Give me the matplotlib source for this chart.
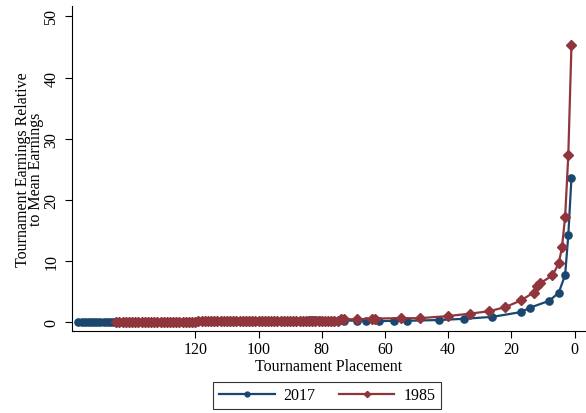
import matplotlib.pyplot as plt
import numpy as np

plt.rcParams['font.family'] = ['Liberation Serif', 'DejaVu Serif']

# placements and earnings relative to mean
place_2017 = [1, 2, 3, 5, 8, 14, 17, 26, 35, 43, 53, 57, 62, 66, 69, 73, 75,
              81, 82, 83, 84] + list(range(85, 158))
earn_2017 = [23.6, 14.2, 7.7, 4.8, 3.45, 2.35, 1.6, 0.82, 0.5, 0.3, 0.18, 0.17,
             0.12, 0.15, 0.2, 0.2, 0.18, 0.3, 0.3, 0.28, 0.25,
             0.2, 0.18, 0.17, 0.16, 0.15, 0.15, 0.14, 0.14, 0.13, 0.13,
             0.12, 0.12, 0.11, 0.11, 0.1, 0.1, 0.1, 0.09, 0.09, 0.09,
             0.08, 0.08, 0.08, 0.08, 0.07, 0.07, 0.07, 0.07, 0.07, 0.06,
             0.06, 0.06, 0.06, 0.06, 0.06, 0.05, 0.05, 0.05, 0.05, 0.05,
             0.05, 0.05, 0.04, 0.04, 0.04, 0.04, 0.04, 0.04, 0.04, 0.04,
             0.04, 0.03, 0.03, 0.03, 0.03, 0.03, 0.03, 0.03, 0.03, 0.03,
             0.03, 0.03, 0.02, 0.02, 0.02, 0.02, 0.02, 0.02, 0.02, 0.02,
             0.02, 0.02, 0.02]

place_1985 = [1, 2, 3, 4, 5, 7, 11, 12, 13, 17, 22, 27, 33, 40, 49, 55, 63, 64,
              69, 73, 74] + list(range(75, 146))
earn_1985 = [45.3, 27.3, 17.2, 12.2, 9.6, 7.6, 6.3, 5.9, 4.8, 3.5, 2.4, 1.75,
             1.35, 0.95, 0.6, 0.6, 0.55, 0.55, 0.4, 0.45, 0.4,
             0.2, 0.19, 0.18, 0.17, 0.17, 0.16, 0.16, 0.15, 0.15, 0.14,
             0.14, 0.13, 0.13, 0.12, 0.12, 0.12, 0.11, 0.11, 0.11, 0.1,
             0.1, 0.1, 0.1, 0.09, 0.09, 0.09, 0.09, 0.08, 0.08, 0.08,
             0.08, 0.08, 0.07, 0.07, 0.07, 0.07, 0.07, 0.07, 0.06, 0.06,
             0.06, 0.06, 0.06, 0.06, 0.06, 0.05, 0.05, 0.05, 0.05, 0.05,
             0.05, 0.05, 0.05, 0.05, 0.04, 0.04, 0.04, 0.04, 0.04, 0.04,
             0.04, 0.04, 0.04, 0.04, 0.04, 0.03, 0.03, 0.03, 0.03, 0.03,
             0.03]

blue = '#1a476f'
red = '#90353b'

fig = plt.figure(figsize=(5.86, 4.14), dpi=100)
ax = fig.add_axes([0.1229, 0.198, 0.8771, 0.785])

ax.plot(place_2017, earn_2017, color=blue, lw=1.6, marker='o', ms=5.2,
        label='2017')
ax.plot(place_1985, earn_1985, color=red, lw=1.6, marker='D', ms=4.8,
        label='1985')

ax.set_xlim(159, -3.6)
ax.set_ylim(-1.5, 51.7)
ax.set_xticks([120, 100, 80, 60, 40, 20, 0])
ax.set_yticks([0, 10, 20, 30, 40, 50])
ax.tick_params(axis='y', labelrotation=90, labelsize=11.5, length=5, pad=4)
ax.tick_params(axis='x', labelsize=11.5, length=5, pad=2)
for lab in ax.get_yticklabels():
    lab.set_va('center')

ax.spines['top'].set_visible(False)
ax.spines['right'].set_visible(False)

ax.set_xlabel('Tournament Placement', fontsize=11.5, labelpad=1)
ax.set_ylabel('Tournament Earnings Relative\nto Mean Earnings', fontsize=11.5,
              linespacing=0.72, labelpad=0)

h1, = ax.plot([], [], color=blue, lw=1.6, marker='o', ms=3.5)
h2, = ax.plot([], [], color=red, lw=1.6, marker='D', ms=3.2)
leg = fig.legend([h1, h2], ['2017', '1985'], loc='center',
                 bbox_to_anchor=(0.558, 0.043), ncol=2, fontsize=11.5,
                 frameon=True, fancybox=False, edgecolor='black',
                 handlelength=3.5, handletextpad=0.55, columnspacing=1.45,
                 borderpad=0.35)
leg.get_frame().set_linewidth(0.8)

fig.savefig('out.png', dpi=100)
